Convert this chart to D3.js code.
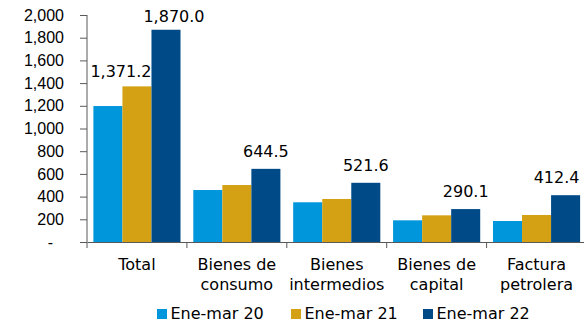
<!DOCTYPE html>
<html>
<head>
<meta charset="utf-8">
<script src="https://cdn.jsdelivr.net/npm/d3@7"></script>
<style>
  html, body { margin: 0; padding: 0; background: #fff; }
  svg { display: block; font-family: "DejaVu Sans", Verdana, sans-serif; }
</style>
</head>
<body>
<svg id="chart" width="584" height="324"></svg>
<script>
// Imports by type, millions of dollars, January–March of each year
const categories = [["Total"], ["Bienes de", "consumo"], ["Bienes", "intermedios"], ["Bienes de", "capital"], ["Factura", "petrolera"]];
const seriesNames = ["Ene-mar 20", "Ene-mar 21", "Ene-mar 22"];
const seriesColors = ["#0096DB", "#D4A114", "#004B87"];
const values20 = [1198, 458, 350, 191, 185];
const values21 = [1371.2, 502, 379, 235, 238];
const values22 = [1870.0, 644.5, 521.6, 290.1, 412.4];
const yTicks = [0, 200, 400, 600, 800, 1000, 1200, 1400, 1600, 1800, 2000];
// bars that carry a value label: [category index, series index]
const labelled = [[0, 1], [0, 2], [1, 2], [2, 2], [3, 2], [4, 2]];

const seriesValues = [values20, values21, values22];
const catKeys = categories.map(c => c.join(" "));

const svg = d3.select("#chart");
const plotLeft = 87, plotBottom = 242, plotTop = 15, step = 99.9;

const x = d3.scaleBand().domain(catKeys).range([plotLeft, plotLeft + step * catKeys.length]).padding(0);
const xs = d3.scaleBand().domain(d3.range(seriesNames.length)).range([0, x.bandwidth()]).paddingInner(0).paddingOuter(0.22);
const y = d3.scaleLinear().domain([0, 2000]).range([plotBottom, plotTop]);

const axisColor = "#595959";
const fmtTick = d3.format(",");
const fmtLabel = d3.format(",.1f");

// bars
const groups = svg.append("g").selectAll("g")
  .data(catKeys)
  .join("g")
  .attr("transform", d => `translate(${x(d)},0)`);

groups.selectAll("rect")
  .data((d, i) => seriesValues.map((vals, s) => ({ s, v: vals[i] })))
  .join("rect")
  .attr("x", d => xs(d.s))
  .attr("width", xs.bandwidth())
  .attr("y", d => y(d.v))
  .attr("height", d => plotBottom - y(d.v))
  .attr("fill", d => seriesColors[d.s]);

// y axis
const yAxis = svg.append("g")
  .attr("transform", `translate(${plotLeft},0)`)
  .call(d3.axisLeft(y).tickValues(yTicks).tickSize(7).tickPadding(16)
    .tickFormat(d => d === 0 ? "-" : fmtTick(d)));
yAxis.select(".domain").attr("stroke", axisColor).attr("d", `M0,${plotTop}V${plotBottom}`);
yAxis.selectAll(".tick line").attr("stroke", axisColor);
yAxis.selectAll(".tick text")
  .attr("fill", "#000")
  .style("font-size", "16px")
  .attr("x", d => d === 0 ? -34 : -23);

// x axis
const xAxis = svg.append("g")
  .attr("transform", `translate(0,${plotBottom})`)
  .call(d3.axisBottom(x).tickSize(0).tickFormat(""));
xAxis.select(".domain").attr("stroke", axisColor);
xAxis.selectAll(".sep")
  .data(d3.range(catKeys.length + 1))
  .join("line")
  .attr("class", "sep")
  .attr("x1", i => plotLeft + step * i).attr("x2", i => plotLeft + step * i)
  .attr("y1", 0).attr("y2", 6)
  .attr("stroke", axisColor);

// category labels
const catText = svg.append("g").selectAll("text")
  .data(categories)
  .join("text")
  .attr("x", (d, i) => x(catKeys[i]) + x.bandwidth() / 2)
  .attr("y", 270)
  .attr("text-anchor", "middle")
  .style("font-size", "16px")
  .attr("fill", "#000");
catText.selectAll("tspan")
  .data(d => d)
  .join("tspan")
  .attr("x", function () { return this.parentNode.getAttribute("x"); })
  .attr("dy", (d, i) => i === 0 ? 0 : 19.5)
  .text(d => d);

// value labels (some are nudged to avoid collisions and the right edge)
const nudge = { "0-1": [-16, 3], "0-2": [8, 4], "4-2": [-9, 0] };
svg.append("g").selectAll("text")
  .data(labelled)
  .join("text")
  .attr("x", ([c, s]) => x(catKeys[c]) + xs(s) + xs.bandwidth() / 2 + (nudge[c + "-" + s] || [0, 0])[0])
  .attr("y", ([c, s]) => y(seriesValues[s][c]) - 12 + (nudge[c + "-" + s] || [0, 0])[1])
  .attr("text-anchor", "middle")
  .style("font-size", "16px")
  .attr("fill", "#000")
  .text(([c, s]) => fmtLabel(seriesValues[s][c]));

// legend
const legendX = [157, 291, 423];
const legend = svg.append("g").selectAll("g")
  .data(seriesNames)
  .join("g")
  .attr("transform", (d, i) => `translate(${legendX[i]},309)`);
legend.append("rect")
  .attr("width", 10).attr("height", 10)
  .attr("fill", (d, i) => seriesColors[i]);
legend.append("text")
  .attr("x", 13.5).attr("y", 10)
  .style("font-size", "16px")
  .attr("fill", "#000")
  .text(d => d);
</script>
</body>
</html>
